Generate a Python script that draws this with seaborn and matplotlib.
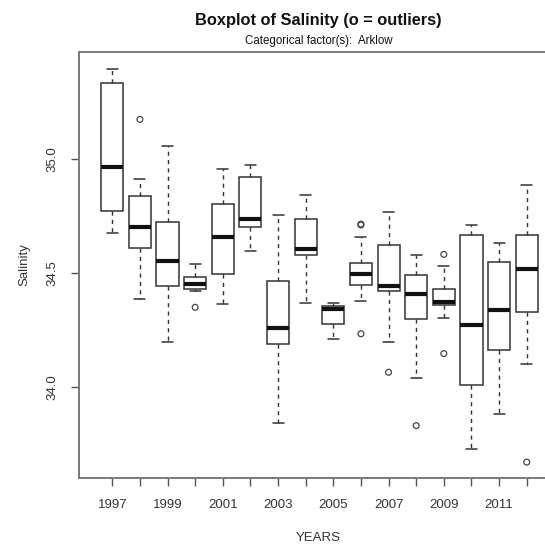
import matplotlib
matplotlib.use("Agg")
import matplotlib.pyplot as plt
import pandas as pd
import seaborn as sns

# Salinity summaries per year (Arklow): whisker ends, hinges and medians
years = [1997, 1998, 1999, 2000, 2001, 2002, 2003, 2004,
         2005, 2006, 2007, 2008, 2009, 2010, 2011, 2012]
whisker_low = [34.674, 34.384, 34.194, 34.420, 34.361, 34.596, 33.842, 34.368,
               34.209, 34.377, 34.194, 34.037, 34.302, 33.726, 33.879, 34.098]
lower_hinge = [34.771, 34.606, 34.440, 34.428, 34.493, 34.699, 34.188, 34.577,
               34.273, 34.445, 34.420, 34.296, 34.358, 34.007, 34.161, 34.328]
median = [34.963, 34.702, 34.552, 34.451, 34.657, 34.737, 34.256, 34.603,
          34.340, 34.496, 34.441, 34.407, 34.372, 34.270, 34.336, 34.518]
upper_hinge = [35.333, 34.834, 34.720, 34.482, 34.803, 34.921, 34.464, 34.736,
               34.355, 34.543, 34.622, 34.489, 34.428, 34.667, 34.547, 34.667]
whisker_high = [35.394, 34.911, 35.054, 34.540, 34.955, 34.971, 34.752, 34.839,
                34.365, 34.655, 34.764, 34.577, 34.527, 34.708, 34.630, 34.883]

# Outlying observations
outlier_years = [1998, 2000, 2006, 2006, 2006, 2007, 2008, 2009, 2009, 2012]
outlier_values = [35.172, 34.348, 34.713, 34.709, 34.232, 34.063, 33.829,
                  34.580, 34.145, 33.669]

y_ticks = [34.0, 34.5, 35.0]

# Five-number table: with whis=(0, 100) the box spans the hinges and the
# whiskers reach the extreme values of each group
rows = []
for i, yr in enumerate(years):
    for v in (whisker_low[i], lower_hinge[i], median[i], upper_hinge[i], whisker_high[i]):
        rows.append({"YEARS": str(yr), "Salinity": v})
box_df = pd.DataFrame(rows)
out_df = pd.DataFrame({"YEARS": [str(y) for y in outlier_years],
                       "Salinity": outlier_values})
order = [str(y) for y in years]

sns.set_style("ticks")
plt.rcParams["font.family"] = ["Liberation Sans", "DejaVu Sans"]

W, H = 545, 550
fig = plt.figure(figsize=(W / 100, H / 100), dpi=100)
left_px, right_px, top_px, bottom_px = 79, 558.2, 51.7, 478.3
ax = fig.add_axes([left_px / W, 1 - bottom_px / H,
                   (right_px - left_px) / W, (bottom_px - top_px) / H])

line_col = "#333333"
sns.boxplot(data=box_df, x="YEARS", y="Salinity", order=order, ax=ax,
            whis=(0, 100), width=0.8, color="white", linecolor=line_col,
            linewidth=1.1, showfliers=False,
            boxprops={"facecolor": "white", "edgecolor": line_col},
            medianprops={"color": "#111111", "linewidth": 3.0},
            whiskerprops={"linestyle": (0, (3, 3)), "linewidth": 1.0},
            capprops={"linewidth": 1.1})

sns.stripplot(data=out_df, x="YEARS", y="Salinity", order=order, ax=ax,
              jitter=False, size=4.2, color="#444444", marker="o", linewidth=0.9)
for coll in ax.collections:
    coll.set_facecolor("none")
    coll.set_edgecolor("#444444")

ax.set_xlim(-1.205, 16.14)
ax.set_ylim(33.598, 35.469)

ax.set_xticks(range(len(years)))
ax.set_xticklabels([str(y) if y % 2 else "" for y in years])
ax.set_yticks(y_ticks)
ax.set_yticklabels([f"{t:.1f}" for t in y_ticks], rotation=90, va="center")
ax.tick_params(axis="both", direction="out", length=6, width=1.0,
               color="#555555", labelsize=9.5, labelcolor="#333333")
ax.tick_params(axis="x", pad=9)
ax.tick_params(axis="y", pad=9)

for sp in ax.spines.values():
    sp.set_visible(True)
    sp.set_color("#7a7a7a")
    sp.set_linewidth(1.4)

ax.set_xlabel("")
ax.set_ylabel("")
cx = (left_px + right_px) / 2 / W
fig.text(cx, 1 - 538 / H, "YEARS", ha="center", va="center",
         fontsize=9.5, color="#333333")
fig.text(24 / W, 1 - 265 / H, "Salinity", ha="center", va="center",
         rotation=90, fontsize=9.5, color="#333333")
fig.text(cx, 1 - 21 / H, "Boxplot of Salinity (o = outliers)", ha="center",
         va="center", fontsize=11.8, fontweight="bold", color="#111111")
fig.text(cx, 1 - 41 / H, "Categorical factor(s):  Arklow", ha="center",
         va="center", fontsize=8.3, color="#111111")

fig.savefig("out.png", dpi=100, facecolor="white")
